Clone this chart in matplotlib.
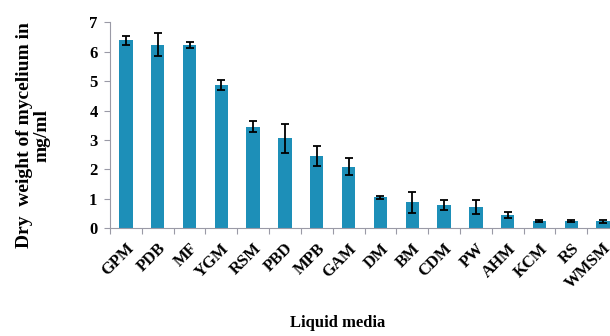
import numpy as np
import matplotlib.pyplot as plt

media = ['GPM', 'PDB', 'MF', 'YGM', 'RSM', 'PBD', 'MPB', 'GAM',
         'DM', 'BM', 'CDM', 'PW', 'AHM', 'KCM', 'RS', 'WMSM']
dry_weight = [6.39, 6.25, 6.23, 4.86, 3.45, 3.05, 2.45, 2.08,
              1.04, 0.87, 0.79, 0.72, 0.43, 0.24, 0.24, 0.23]
std_err = [0.16, 0.40, 0.11, 0.17, 0.19, 0.50, 0.34, 0.29,
           0.04, 0.37, 0.17, 0.24, 0.10, 0.03, 0.03, 0.05]
yticks = [0, 1, 2, 3, 4, 5, 6, 7]

plt.rcParams['font.family'] = ['Liberation Serif', 'DejaVu Serif']

fig = plt.figure(figsize=(6.1, 3.36), dpi=100)
# axes runs a bit past the right edge, like the cropped original
ax = fig.add_axes([110 / 610, 108 / 336, 509 / 610, 205.5 / 336])

x = np.arange(len(media))
ax.bar(x, dry_weight, width=0.42, color='#1d8fb8', zorder=2)
ax.errorbar(x, dry_weight, yerr=std_err, fmt='none', ecolor='black',
            elinewidth=1.3, capsize=3, capthick=1.3, zorder=3)

ax.set_xlim(-0.5, len(media) - 0.5)
ax.set_ylim(0, 7)
ax.set_yticks(yticks)
ax.set_yticklabels([str(t) for t in yticks], fontsize=12, fontweight='bold')

# category ticks sit between bars
ax.set_xticks(np.arange(-0.5, len(media), 1.0))
ax.set_xticklabels([])
ax.set_xticks(x, minor=True)
ax.set_xticklabels(media, minor=True, rotation=45, ha='right',
                   rotation_mode='anchor', fontsize=12, fontweight='bold')
ax.tick_params(axis='x', which='minor', length=0, pad=9)
ax.tick_params(axis='x', which='major', length=4, width=0.8, color='#9a9aa6')
ax.tick_params(axis='y', length=4, width=0.8, color='#9a9aa6', pad=5)

for s in ['top', 'right']:
    ax.spines[s].set_visible(False)
for s in ['left', 'bottom']:
    ax.spines[s].set_color('#9a9aa6')
    ax.spines[s].set_linewidth(0.8)

fig.text(33 / 610, 1 - 135 / 336, 'Dry  weight of mycelium in\nmg/ml',
         rotation=90, ha='center', va='center', fontsize=14,
         fontweight='bold', multialignment='center', linespacing=1.05)
fig.text(338 / 610, 1 - 323 / 336, 'Liquid media', ha='center', va='center',
         fontsize=12, fontweight='bold')

fig.savefig('out.png', dpi=100)
